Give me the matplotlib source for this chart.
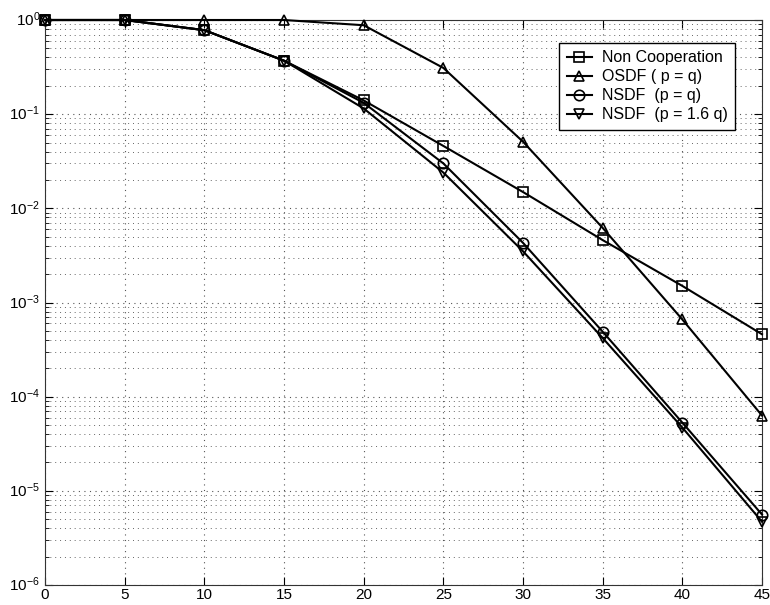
import matplotlib
matplotlib.use("Agg")
import matplotlib.pyplot as plt
from matplotlib.ticker import LogLocator, NullFormatter, MultipleLocator

plt.rcParams['font.family'] = ['Liberation Sans', 'DejaVu Sans']
plt.rcParams['mathtext.fontset'] = 'custom'
plt.rcParams['mathtext.rm'] = 'Liberation Sans'
plt.rcParams['mathtext.it'] = 'Liberation Sans'

snr = [0, 5, 10, 15, 20, 25, 30, 35, 40, 45]
non_coop = [1.0, 1.0, 0.78, 0.37, 0.14, 0.046, 0.0149, 0.0046, 0.0015, 0.00046]
osdf = [1.0, 1.0, 1.0, 1.0, 0.88, 0.31, 0.051, 0.0062, 0.00066, 0.000063]
nsdf_eq = [1.0, 1.0, 0.78, 0.37, 0.132, 0.030, 0.0043, 0.00049, 0.000053, 0.0000056]
nsdf_16 = [1.0, 1.0, 0.78, 0.37, 0.115, 0.024, 0.0035, 0.00042, 0.000047, 0.0000047]
labels = ['Non Cooperation', 'OSDF ( p = q)', 'NSDF  (p = q)', 'NSDF  (p = 1.6 q)']
markers = ['s', '^', 'o', 'v']

fig = plt.figure(figsize=(7.7, 6.05), dpi=100)
ax = fig.add_axes([45/770, 20/605, 717/770, 565/605])

for y, lab, m in zip([non_coop, osdf, nsdf_eq, nsdf_16], labels, markers):
    ax.semilogy(snr, y, color='black', lw=1.5, marker=m, markersize=7.5,
                markerfacecolor='none', markeredgecolor='black', markeredgewidth=1.2,
                label=lab, clip_on=False, zorder=3)

ax.set_xlim(0, 45)
ax.set_ylim(1e-6, 1)
ax.xaxis.set_major_locator(MultipleLocator(5))
ax.yaxis.set_major_locator(LogLocator(base=10, numticks=10))
ax.yaxis.set_minor_locator(LogLocator(base=10, subs=range(2, 10), numticks=20))
ax.yaxis.set_minor_formatter(NullFormatter())
ax.grid(True, which='major', axis='both', linestyle=(0, (1, 4)), color='#555555', lw=0.8)
ax.grid(True, which='minor', axis='y', linestyle=(0, (1, 4)), color='#666666', lw=0.7)
ax.tick_params(which='both', direction='in', top=True, right=True, labelsize=11)
ax.tick_params(axis='x', pad=2.5)
ax.tick_params(which='major', length=6)
ax.tick_params(which='minor', length=3)
for s in ax.spines.values():
    s.set_color('#333333')
fig.canvas.draw()
for t in ax.get_yticklabels():
    t.set_verticalalignment('center')

leg = ax.legend(loc='upper right', bbox_to_anchor=(0.962, 0.959), fontsize=11.5,
                fancybox=False, framealpha=1, edgecolor='black', handlelength=1.6,
                borderpad=0.45, labelspacing=0.25, handletextpad=0.6, borderaxespad=0)
leg.get_frame().set_linewidth(1.0)

fig.savefig('out.png', dpi=100)
